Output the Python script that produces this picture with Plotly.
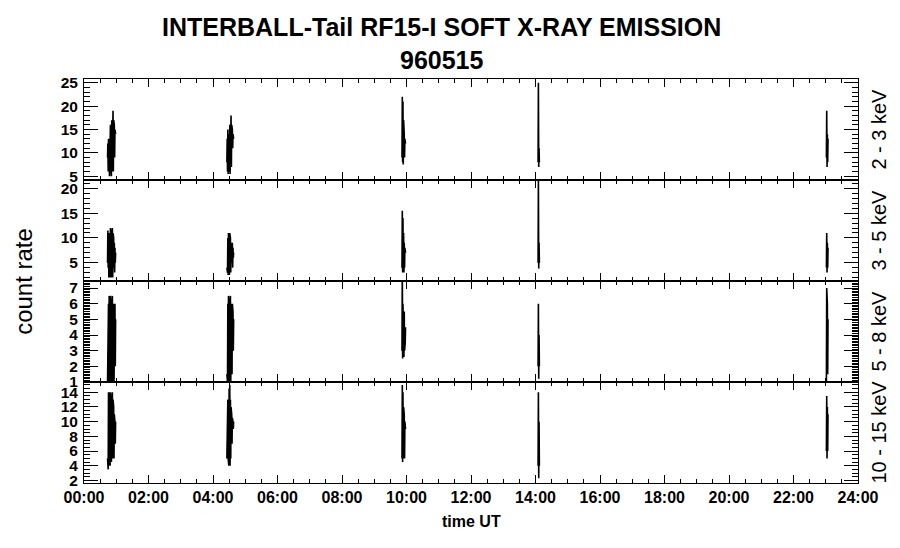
import plotly.graph_objects as go
from plotly.subplots import make_subplots

# ---- data ----
burst_start_h = [0.73, 4.43, 9.86, 14.08, 23.02]   # burst start times (hours UT)
sample_dt_h = 0.01                                 # sampling cadence (hours)

ch_2_3 = [
    [9, 12, 6, 13, 7, 11, 5, 14, 6, 16, 7, 15, 5, 17, 6, 18, 8, 19, 6, 17, 7, 16, 9, 15, 11, 14],
    [8, 13, 6, 15, 5.5, 14, 7, 15, 6, 16, 5.5, 17, 6, 18, 7, 16, 9, 15, 11, 14, 12, 13],
    [9, 22, 8, 21, 7.5, 17, 8, 14, 9, 13, 10, 12],
    [8, 25, 7, 11, 8],
    [9, 19, 7, 14, 8, 13],
]
ch_3_5 = [
    [5, 11.5, 4, 10, 2, 11, 3, 9, 2, 12, 3, 11, 2, 10, 4, 12, 2, 11, 3, 10, 4, 9, 3, 8, 5, 7],
    [4, 9, 3, 10, 2.5, 11, 3, 10, 2.5, 11, 4, 10, 3, 9, 4, 8, 5, 9, 4, 8, 6, 7],
    [4, 15.5, 3, 14, 3.5, 11, 3, 9, 4, 8, 5, 7],
    [5, 22, 3.8, 9, 5],
    [4, 11, 3, 9, 4, 8],
]
ch_5_8 = [
    [1, 4, 1, 6, 1, 6.5, 1, 6, 1, 6.5, 1, 6, 1, 6, 1, 6.5, 1, 6, 1, 6, 1, 6, 1.5, 6, 2, 5],
    [1.5, 5, 1, 6, 1, 6.5, 1, 6, 1, 6, 1, 6.5, 1, 6, 1, 6, 1.5, 6, 2, 5.5, 3, 5],
    [3, 8.5, 2.5, 6, 3, 6, 2.6, 5.5, 3, 5, 3.5, 4.5],
    [2, 6, 1.2, 4, 2],
    [1, 7, 1, 6, 1.5, 5],
]
ch_10_15 = [
    [5, 14, 3.5, 14, 4, 14, 5, 13, 4, 14, 5, 13, 4.5, 12, 5, 14, 5, 13, 6, 12, 5, 11, 6, 10, 7, 10],
    [5, 12, 6, 13, 5, 14, 4, 14.5, 5, 15, 4, 13, 5, 12, 6, 11, 7, 10.5, 8, 10, 9, 10],
    [5, 15, 4.5, 14, 5, 12, 6, 11, 5, 10, 6, 9],
    [4, 14, 2.3, 10, 4],
    [6, 13.5, 5, 12, 6, 11],
]

channels = [ch_2_3, ch_3_5, ch_5_8, ch_10_15]
channel_labels = ["2 - 3 keV", "3 - 5 keV", "5 - 8 keV", "10 - 15 keV"]

y_ranges = [[4.2, 25.8], [1.3, 21.7], [1.0, 7.45], [1.65, 15.4]]
y_tickvals = [[5, 10, 15, 20, 25], [5, 10, 15, 20], [1, 2, 3, 4, 5, 6, 7],
              [2, 4, 6, 8, 10, 12, 14]]
y_minor_dtick = [1, 1, 0.1, 0.5]

x_tickvals = list(range(0, 25, 2))
x_ticktext = ["%02d:00" % h for h in x_tickvals]

title_line1 = "INTERBALL-Tail RF15-I SOFT X-RAY EMISSION"
title_line2 = "960515"

# ---- figure ----
FONT = "Liberation Sans, Arial, sans-serif"
fig = make_subplots(rows=4, cols=1, shared_xaxes=True, vertical_spacing=0)

for i, ch in enumerate(channels):
    xs, ys = [], []
    for start, vals in zip(burst_start_h, ch):
        for k, v in enumerate(vals):
            xs.append(start + k * sample_dt_h)
            ys.append(v)
        xs.append(None)
        ys.append(None)
    fig.add_trace(go.Scatter(x=xs, y=ys, mode="lines",
                             line=dict(color="black", width=1.6),
                             connectgaps=False, showlegend=False,
                             hoverinfo="skip"),
                  row=i + 1, col=1)

domains = [[0.75, 1.0], [0.5, 0.75], [0.25, 0.5], [0.0, 0.25]]
for i in range(4):
    fig.update_yaxes(row=i + 1, col=1, domain=domains[i], range=y_ranges[i],
                     tickvals=y_tickvals[i], ticks="inside", ticklen=14,
                     tickwidth=1, tickcolor="black", mirror="ticks",
                     showline=True, linecolor="black", linewidth=1,
                     showgrid=False, zeroline=False, automargin=False,
                     minor=dict(dtick=y_minor_dtick[i], ticks="inside",
                                ticklen=6, tickcolor="black", tickwidth=1,
                                showgrid=False),
                     tickfont=dict(family=FONT, size=15.5, color="black",
                                   weight="bold"),
                     ticklabelstandoff=2)
    fig.update_xaxes(row=i + 1, col=1, range=[0, 24], tickvals=x_tickvals,
                     ticktext=x_ticktext, ticks="inside", ticklen=8,
                     tickwidth=1, tickcolor="black", mirror="ticks",
                     showline=True, linecolor="black", linewidth=1,
                     showgrid=False, zeroline=False, automargin=False,
                     minor=dict(dtick=0.5, ticks="inside", ticklen=4,
                                tickcolor="black", tickwidth=1, showgrid=False),
                     tickfont=dict(family=FONT, size=16, color="black",
                                   weight="bold"),
                     showticklabels=(i == 3))

annotations = [
    dict(text="<b>%s</b>" % title_line1, x=0.4625, y=1.1287, xref="paper",
         yref="paper", showarrow=False, xanchor="center", yanchor="middle",
         font=dict(family=FONT, size=25, color="black")),
    dict(text="<b>%s</b>" % title_line2, x=0.4625, y=1.047, xref="paper",
         yref="paper", showarrow=False, xanchor="center", yanchor="middle",
         font=dict(family=FONT, size=25, color="black")),
    dict(text="<b>time UT</b>", x=0.5, y=-0.0965, xref="paper", yref="paper",
         showarrow=False, xanchor="center", yanchor="middle",
         font=dict(family=FONT, size=16, color="black")),
    dict(text="count rate", x=-0.079, y=0.5, xref="paper", yref="paper",
         showarrow=False, textangle=-90, xanchor="center", yanchor="middle",
         font=dict(family=FONT, size=24, color="black")),
]
for i, lab in enumerate(channel_labels):
    annotations.append(dict(text=lab, x=1.026, y=sum(domains[i]) / 2,
                            xref="paper", yref="paper", showarrow=False,
                            textangle=-90, xanchor="center", yanchor="middle",
                            font=dict(family=FONT, size=20, color="black")))

# the page body adds an 8px offset, so the figure is 16px smaller
fig.update_layout(width=884, height=532,
                  margin=dict(l=76, r=34, t=71, b=57),
                  paper_bgcolor="white", plot_bgcolor="white",
                  annotations=annotations, showlegend=False)

fig.write_html("out.html")
